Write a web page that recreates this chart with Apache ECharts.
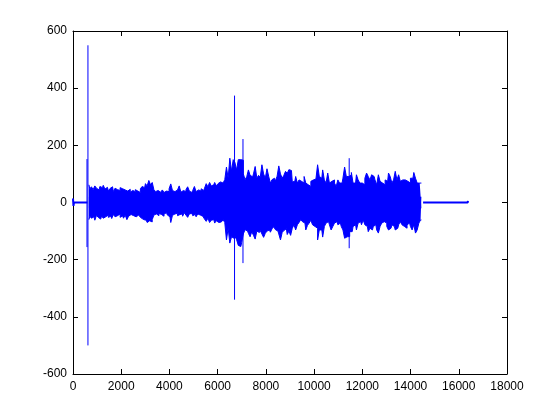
<!DOCTYPE html>
<html>
<head>
<meta charset="utf-8">
<script src="https://cdn.jsdelivr.net/npm/echarts@6/dist/echarts.min.js"></script>
<style>html,body{margin:0;padding:0;background:#fff}#c{width:560px;height:420px}</style>
</head>
<body>
<div id="c"></div>
<script>
// envelope samples (t = sampleStart + i*sampleStep)
const sampleStart = 660;
const sampleStep = 70;
const upper = [
 62,48,55,45,58,50,44,56,52,60,47,53,40,49,55,38,50,45,42,52,48,44,50,40,46,36,42,38,45,40,35,48,56,52,66,58,77,62,70,
 45,38,42,36,40,44,35,40,38,48,65,42,38,44,40,58,36,42,38,45,55,40,35,42,56,38,44,40,48,42,50,66,55,70,58,62,70,58,66,72,68,
 62,80,124,85,155,110,150,140,114,150,150,148,100,80,90,114,95,90,100,126,85,95,88,132,100,85,118,92,68,80,85,75,92,128,100,85,95,109,102,115,112,72,
 74,91,68,79,74,68,91,68,62,56,74,79,82,79,132,91,85,114,79,68,103,68,74,79,68,56,79,68,68,85,124,91,91,97,105,68,68,97,79,68,68,62,
 85,103,91,79,97,91,79,62,97,74,68,62,79,74,103,91,68,79,109,79,97,74,79,79,85,74,68,85,85,105,85,68,68,68
];
const lower = [
 -60,-48,-55,-50,-62,-45,-52,-58,-47,-55,-50,-44,-52,-48,-56,-42,-50,-46,-40,-52,-47,-55,-44,-60,-48,-42,-46,-40,-50,-44,-42,-52,-58,-62,-55,-70,-64,-68,-60,
 -44,-40,-46,-38,-42,-48,-40,-36,-44,-50,-70,-45,-40,-38,-46,-42,-40,-48,-36,-44,-52,-40,-38,-46,-42,-50,-40,-44,-48,-52,-58,-66,-55,-70,-62,-60,-72,-64,-70,-68,-72,
 -60,-70,-131,-90,-142,-120,-125,-118,-130,-150,-154,-140,-110,-95,-100,-108,-120,-102,-115,-128,-100,-105,-98,-110,-122,-108,-100,-96,-104,-92,-85,-95,-100,-110,-131,-105,-98,-92,-112,-100,-115,-90,
 -78,-96,-78,-70,-60,-67,-72,-96,-80,-72,-62,-78,-84,-90,-131,-96,-96,-121,-84,-72,-67,-78,-96,-84,-72,-67,-78,-72,-84,-96,-125,-120,-119,-102,-102,-84,-78,-96,-72,-67,-78,-61,
 -78,-84,-102,-90,-96,-84,-78,-96,-107,-84,-72,-67,-72,-84,-96,-90,-78,-84,-96,-90,-78,-67,-78,-84,-90,-78,-72,-84,-96,-78,-107,-96,-72,-61
];
// isolated spikes
const spikeT  = [580, 620, 6700, 7050, 11455];
const spikeHi = [152, 550, 374, 222, 155];
const spikeLo = [-156, -500, -340, -212, -160];
// quiet parts before and after the signal
const headT = [0, 20, 40, 600];
const headV = [14, -12, 0, 0];
const tailT = [14520, 16370, 16380, 16384];
const tailV = [0, 0, 6, -5];

const upPts = [], loPts = [];
for (let i = 0; i < upper.length; i++) {
  const t = sampleStart + i * sampleStep;
  upPts.push([t, upper[i]]);
  loPts.push([t, lower[i]]);
}
const spikes = [];
for (let k = 0; k < spikeT.length; k++) {
  spikes.push([spikeT[k], spikeHi[k]]);
  spikes.push([spikeT[k], spikeLo[k]]);
  spikes.push(null);
}

const quiet = [];
headT.forEach((t, i) => quiet.push([t, headV[i]]));
quiet.push(null);
tailT.forEach((t, i) => quiet.push([t, tailV[i]]));

const BLUE = '#0000ff';
const axisCommon = {
  type: 'value',
  axisLine: { show: true, onZero: false, lineStyle: { color: '#000', width: 1 } },
  axisTick: { show: true, inside: true, length: 5, lineStyle: { color: '#000' } },
  splitLine: { show: false },
  axisLabel: { color: '#000', fontFamily: 'Liberation Sans, Arial, sans-serif', fontSize: 12,
    formatter: v => String(v) }
};

const chart = echarts.init(document.getElementById('c'), null, { renderer: 'canvas' });
chart.setOption({
  animation: false,
  backgroundColor: '#fff',
  grid: { left: 73, top: 31, right: 53, bottom: 46, containLabel: false },
  xAxis: [
    Object.assign({}, axisCommon, { position: 'bottom', min: 0, max: 18000, interval: 2000,
      axisLabel: Object.assign({}, axisCommon.axisLabel, { margin: 7 }) }),
    Object.assign({}, axisCommon, { position: 'top', min: 0, max: 18000, interval: 2000,
      axisLabel: { show: false } })
  ],
  yAxis: [
    Object.assign({}, axisCommon, { position: 'left', min: -600, max: 600, interval: 200,
      axisLabel: Object.assign({}, axisCommon.axisLabel, { margin: 6 }) }),
    Object.assign({}, axisCommon, { position: 'right', min: -600, max: 600, interval: 200,
      axisLabel: { show: false } })
  ],
  series: [
    { type: 'line', data: quiet, showSymbol: false, connectNulls: false,
      lineStyle: { color: BLUE, width: 2 }, silent: true },
    { type: 'line', data: upPts, showSymbol: false, step: 'middle', sampling: null,
      lineStyle: { color: BLUE, width: 1 }, areaStyle: { color: BLUE, opacity: 1, origin: -20 }, silent: true },
    { type: 'line', data: loPts, showSymbol: false, step: 'middle', sampling: null,
      lineStyle: { color: BLUE, width: 1 }, areaStyle: { color: BLUE, opacity: 1, origin: 20 }, silent: true },
    { type: 'line', data: spikes, showSymbol: false, connectNulls: false,
      lineStyle: { color: BLUE, width: 1 }, silent: true }
  ]
});
</script>
</body>
</html>
